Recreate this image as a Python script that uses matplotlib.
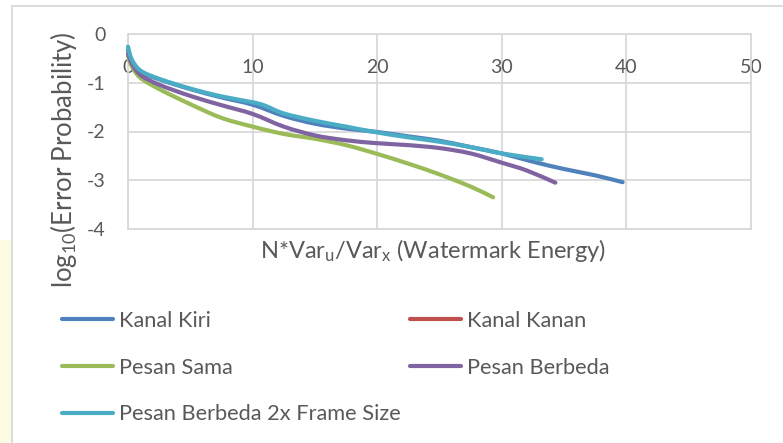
import matplotlib
matplotlib.use("Agg")
import numpy as np
import matplotlib.pyplot as plt
from matplotlib.patches import Rectangle, PathPatch
from matplotlib.path import Path
from matplotlib.lines import Line2D

plt.rcParams['font.family'] = ['Lato', 'DejaVu Sans']
plt.rcParams['mathtext.fontset'] = 'custom'
plt.rcParams['mathtext.rm'] = 'Lato'
plt.rcParams['mathtext.it'] = 'Lato'
plt.rcParams['mathtext.default'] = 'regular'
plt.rcParams['axes.unicode_minus'] = False

# Series data: x = N*Var_u/Var_x, y = log10(error probability)
kiri_x = [0, 0.3, 1, 2.5, 5, 7.5, 10, 12.5, 15, 17.5, 20, 22.5, 25, 27.5, 30, 32.5, 35, 37.5, 39.7]
kiri_y = [-0.33, -0.55, -0.77, -0.93, -1.13, -1.3, -1.45, -1.68, -1.84, -1.94, -2.01,
          -2.1, -2.19, -2.32, -2.45, -2.62, -2.77, -2.9, -3.04]

kanan_x = []
kanan_y = []

sama_x = [0, 0.3, 1, 2.5, 5, 7.5, 10, 12.5, 15, 17.5, 20, 22.5, 25, 27.5, 29.3]
sama_y = [-0.45, -0.66, -0.9, -1.13, -1.44, -1.72, -1.9, -2.05, -2.15, -2.28, -2.46,
          -2.66, -2.88, -3.13, -3.35]

beda_x = [0, 0.3, 1, 2.5, 5, 7.5, 10, 12.5, 15, 17.5, 20, 22.5, 25, 27.5, 30, 32, 34.3]
beda_y = [-0.4, -0.6, -0.84, -1.04, -1.27, -1.46, -1.64, -1.9, -2.08, -2.18, -2.24,
          -2.28, -2.34, -2.45, -2.64, -2.8, -3.05]

beda2x_x = [0, 0.3, 1, 2.5, 5, 7.5, 10, 11, 12.5, 15, 17.5, 20, 22.5, 25, 27.5, 30, 33.2]
beda2x_y = [-0.26, -0.52, -0.75, -0.92, -1.12, -1.28, -1.40, -1.47, -1.63, -1.78, -1.9,
            -2.02, -2.12, -2.21, -2.32, -2.45, -2.57]

labels = ['Kanal Kiri', 'Kanal Kanan', 'Pesan Sama', 'Pesan Berbeda',
          'Pesan Berbeda 2x Frame Size']
colors = ['#4F81BD', '#C0504D', '#9BBB59', '#8064A2', '#4BACC6']
x_ticks = [0, 10, 20, 30, 40, 50]
y_ticks = [0, -1, -2, -3, -4]

TEXT = '#595959'
GRID = '#D9D9D9'
LW = 3.0


def smooth_path(xs, ys):
    """Cubic Bezier path through the points (Catmull-Rom style smoothing)."""
    pts = np.column_stack([xs, ys]).astype(float)
    n = len(pts)
    verts = [pts[0]]
    codes = [Path.MOVETO]
    for i in range(n - 1):
        p0 = pts[i - 1] if i > 0 else pts[i]
        p1, p2 = pts[i], pts[i + 1]
        p3 = pts[i + 2] if i + 2 < n else pts[i + 1]
        verts += [p1 + (p2 - p0) / 6.0, p2 - (p3 - p1) / 6.0, p2]
        codes += [Path.CURVE4] * 3
    return Path(verts, codes)


W, H = 783, 443
fig = plt.figure(figsize=(W / 100, H / 100), dpi=100)
fig.patch.set_facecolor('white')

# faint slide background on the left edge and chart frame
fig.patches.append(Rectangle((0, 0), 12 / W, 1 - 240 / H, transform=fig.transFigure,
                             facecolor='#FDFBE4', edgecolor='none', zorder=-2))
fig.patches.append(Rectangle((12 / W, -0.05), 1.0, 1.05 - 6 / H, transform=fig.transFigure,
                             facecolor='white', edgecolor=GRID, lw=1.3, zorder=-1))

ax = fig.add_axes([128 / W, 1 - 229 / H, (751 - 128) / W, (229 - 34) / H])
ax.set_zorder(1)
ax.set_facecolor('none')

series = [(kiri_x, kiri_y), (kanan_x, kanan_y), (sama_x, sama_y),
          (beda_x, beda_y), (beda2x_x, beda2x_y)]
handles = []
for (xs, ys), lab, col in zip(series, labels, colors):
    if len(xs) > 1:
        patch = PathPatch(smooth_path(xs, ys), facecolor='none', edgecolor=col, lw=LW,
                          capstyle='round', joinstyle='round', clip_on=False, zorder=3)
        ax.add_patch(patch)
    handles.append(Line2D([], [], color=col, lw=LW, solid_capstyle='round', label=lab))

ax.set_xlim(0, 50)
ax.set_ylim(-4, 0)
ax.set_xticks(x_ticks)
ax.set_yticks(y_ticks)
ax.xaxis.tick_top()
ax.tick_params(axis='x', length=0, pad=-30, labelsize=14, labelcolor=TEXT)
ax.tick_params(axis='y', length=0, pad=16, labelsize=14, labelcolor=TEXT)
for spine in ax.spines.values():
    spine.set_color(GRID)
    spine.set_linewidth(1.3)
ax.grid(True, color=GRID, lw=1.3)
ax.set_axisbelow(True)

ax.set_ylabel('log$_{10}$(Error Probability)', fontsize=18.5, color=TEXT)
ax.yaxis.set_label_coords(-0.079, 0.354)
ax.set_xlabel('N*Var$_{u}$/Var$_{x}$ (Watermark Energy)', fontsize=17, color=TEXT)
ax.xaxis.set_label_position('bottom')
ax.xaxis.set_label_coords(0.49, -0.04)

# legend laid out in two columns
leg_kw = dict(loc='upper left', frameon=False, fontsize=15.7, labelcolor=TEXT,
              handlelength=2.35, handletextpad=0.25, labelspacing=1.22,
              borderpad=0, borderaxespad=0)
leg1 = fig.legend(handles=[handles[0], handles[2], handles[4]],
                  bbox_to_anchor=(62 / W, 1 - 311 / H), **leg_kw)
leg2 = fig.legend(handles=[handles[1], handles[3]],
                  bbox_to_anchor=(410 / W, 1 - 311 / H), **leg_kw)

fig.savefig('out.png', dpi=100)
